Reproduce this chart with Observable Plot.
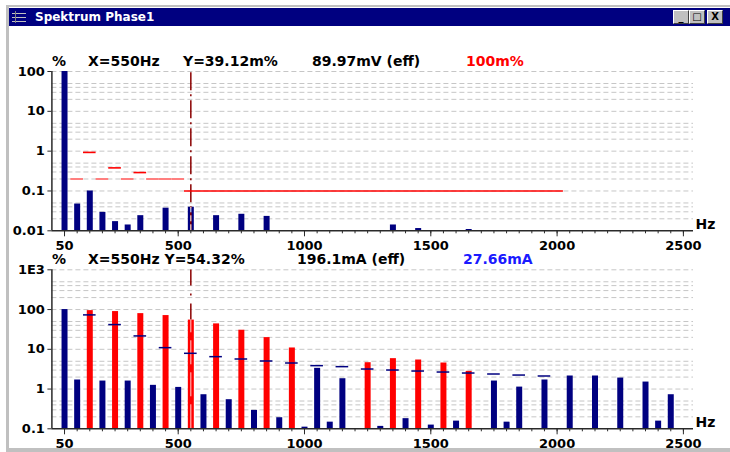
<!DOCTYPE html>
<html>
<head>
<meta charset="utf-8">
<script src="https://cdn.jsdelivr.net/npm/d3@7"></script>
<script src="https://cdn.jsdelivr.net/npm/@observablehq/plot@0.6"></script>
<style>
  body { margin: 0; width: 730px; height: 452px; overflow: hidden; position: relative; background: #fff; font-family: "DejaVu Sans", sans-serif; }
  .abs { position: absolute; }
  .hdr { position: absolute; font: bold 14px "DejaVu Sans", sans-serif; line-height: 16px; white-space: pre; color: #000; }
  .btn { position: absolute; top: 10px; width: 14px; height: 12px; background: #c0c0c0; border: 1px solid; border-color: #fff #404040 #404040 #fff; font: bold 10px "DejaVu Sans", sans-serif; line-height: 12px; text-align: center; color: #000; }
</style>
</head>
<body>
<div class="abs" style="left:6px;top:5px;width:730px;height:441px;border-left:3px solid #c0c0c0;border-top:2px solid #c0c0c0;border-bottom:4px solid #c0c0c0;"></div>
<div class="abs" style="left:9px;top:8px;width:730px;height:18px;background:#000080;"></div>
<div class="abs" style="left:12px;top:10px;width:15px;height:14px;">
  <div class="abs" style="left:0;top:3px;width:14px;height:1px;background:#c0c0c0"></div>
  <div class="abs" style="left:0;top:7px;width:14px;height:1px;background:#c0c0c0"></div>
  <div class="abs" style="left:0;top:11px;width:14px;height:1px;background:#c0c0c0"></div>
  <div class="abs" style="left:3px;top:1px;width:1px;height:12px;background:#808080"></div>
</div>
<div class="abs" style="left:35px;top:9px;font:bold 12px 'DejaVu Sans',sans-serif;line-height:16px;color:#fff;">Spektrum Phase1</div>
<div class="btn" style="left:673px;">_</div>
<div class="btn" style="left:689px;">&#9633;</div>
<div class="btn" style="left:707px;">X</div>

<div id="top" class="abs" style="left:0;top:40px;"></div>
<div id="bot" class="abs" style="left:0;top:245px;"></div>

<div class="hdr" style="left:52px;top:53px;">%</div>
<div class="hdr" style="left:88px;top:53px;">X=550Hz</div>
<div class="hdr" style="left:183px;top:53px;">Y=39.12m%</div>
<div class="hdr" style="left:312px;top:53px;">89.97mV (eff)</div>
<div class="hdr" style="left:466px;top:53px;color:#ff0000;">100m%</div>

<div class="hdr" style="left:52px;top:251px;">%</div>
<div class="hdr" style="left:88px;top:251px;">X=550Hz Y=54.32%</div>
<div class="hdr" style="left:297px;top:251px;">196.1mA (eff)</div>
<div class="hdr" style="left:463px;top:251px;color:#1a1aff;">27.66mA</div>

<script>
// ---------- data ----------
const cursorHz = 550;

// voltage spectrum (top), % of fundamental
const uHz  = [50, 100, 150, 200, 250, 300, 350, 450, 550, 650, 750, 850, 1350, 1450, 1650];
const uPct = [100, 0.047, 0.1, 0.029, 0.017, 0.014, 0.024, 0.037, 0.03912, 0.024, 0.026, 0.023, 0.014, 0.0114, 0.0108];

// voltage limits (top)
const uLimLightHz  = [100, 200, 300, 400, 450, 500];
const uLimLightPct = [0.2, 0.2, 0.2, 0.2, 0.2, 0.2];
const uLimHz  = [150, 250, 350];
const uLimPct = [0.93, 0.38, 0.29];
const uBandFrom = 550, uBandTo = 2000, uBandPct = 0.1;

// current spectrum (bottom), % of fundamental
const iHz  = [50, 100, 150, 200, 250, 300, 350, 400, 450, 500, 550, 600, 650, 700, 750, 800, 850, 900, 950, 1000,
              1050, 1100, 1150, 1250, 1300, 1350, 1400, 1450, 1500, 1550, 1600, 1650, 1750, 1800, 1850, 1950,
              2050, 2150, 2250, 2350, 2400, 2450];
const iPct = [100, 1.69, 94, 1.59, 89, 1.59, 79, 1.24, 70.6, 1.1, 54.32, 0.72, 43.6, 0.54, 30.2, 0.29, 19.7, 0.19, 10.8, 0.11,
              3.32, 0.147, 1.82, 4.6, 0.115, 5.82, 0.18, 5.38, 0.124, 4.52, 0.156, 2.79, 1.59, 0.147, 1.12, 1.69,
              2.13, 2.13, 1.89, 1.5, 0.156, 0.72];

// current limits (bottom)
const iLimHz  = [150, 250, 350, 450, 550, 650, 750, 850, 950, 1050, 1150, 1250, 1350, 1450, 1550, 1650, 1750, 1850, 1950];
const iLimPct = [73.4, 41.9, 21.7, 11.0, 7.93, 6.53, 5.7, 5.08, 4.52, 3.88, 3.66, 3.19, 3.01, 2.84, 2.68, 2.53, 2.39, 2.25, 2.13];

// axes
const xMajor = [50, 500, 1000, 1500, 2000, 2500];
const uTicks = [0.01, 0.1, 1, 10, 100];
const uTickLabels = ["0.01", "0.1", "1", "10", "100"];
const iTicks = [0.1, 1, 10, 100, 1000];
const iTickLabels = ["0.1", "1", "10", "100", "1E3"];
const gridMult = [1, 2, 3, 4, 5];

// ---------- helpers ----------
const zip = (a, b, k1, k2) => a.map((v, i) => ({[k1]: v, [k2]: b[i]}));
const NAVY = "#000080", RED = "#ff0000", PINK = "#ff7f7f", CURSOR = "#8b0000", GRID = "#c6c6c6", AXIS = "#2a2a2a";
const xMinor = d3.range(50, 2501, 50);

function grid(ticks) {
  const out = [];
  for (let k = 0; k < ticks.length - 1; k++) for (const m of gridMult) out.push(ticks[k] * m);
  out.shift();
  out.push(ticks[ticks.length - 1]);
  return out;
}

function chart({height, marginTop, marginBottom, ticks, labels, marks}) {
  const lab = new Map(ticks.map((t, i) => [t, labels[i]]));
  const floor = ticks[0];
  return Plot.plot({
    width: 730, height, marginLeft: 51.4, marginRight: 37, marginTop, marginBottom,
    x: {type: "linear", domain: [0, 2540]},
    y: {type: "log", domain: [ticks[0], ticks[ticks.length - 1]]},
    style: {fontFamily: "DejaVu Sans", fontWeight: "bold", fontSize: "13px", color: AXIS, background: "none", overflow: "visible"},
    marks: [
      Plot.ruleY(grid(ticks), {stroke: GRID, strokeWidth: 1, strokeDasharray: "5,3"}),
      ...marks,
      Plot.ruleX([0], {stroke: AXIS, strokeWidth: 1.5}),
      Plot.ruleY([floor], {stroke: AXIS, strokeWidth: 1.5}),
      Plot.axisY({ticks, tickFormat: d => lab.get(d), tickSize: 4, tickPadding: 3, label: null, fill: "#000"}),
      Plot.axisX({ticks: xMajor, tickFormat: d => String(d), tickSize: 6, tickPadding: 3.5, label: null, fill: "#000"}),
      Plot.axisX({ticks: xMinor, tickSize: 3, tickFormat: () => "", label: null}),
      Plot.text(["Hz"], {frameAnchor: "bottom-right", textAnchor: "start", lineAnchor: "bottom", dx: 2, dy: -2, fontSize: 14, fill: "#000"})
    ]
  });
}

// ---------- top chart ----------
const uData = zip(uHz, uPct, "hz", "pct");
const uCursorVal = uPct[uHz.indexOf(cursorHz)];
document.getElementById("top").append(chart({
  height: 215, marginTop: 31, marginBottom: 24.7,
  ticks: uTicks, labels: uTickLabels,
  marks: [
    Plot.ruleX(uData, {x: "hz", y1: 0.01, y2: "pct", stroke: NAVY, strokeWidth: 6}),
    Plot.ruleX([cursorHz], {y1: 0.01, y2: 100, stroke: CURSOR, strokeWidth: 1.5, strokeDasharray: "18,4,2,4"}),
    Plot.ruleX([cursorHz], {y1: 0.01, y2: uCursorVal, stroke: "#fff", strokeWidth: 1, strokeDasharray: "6,3"}),
    Plot.ruleY(zip(uLimLightHz, uLimLightPct, "hz", "pct"), {y: "pct", x1: d => d.hz - 25, x2: d => d.hz + 25, stroke: PINK, strokeWidth: 2}),
    Plot.ruleY(zip(uLimHz, uLimPct, "hz", "pct"), {y: "pct", x1: d => d.hz - 25, x2: d => d.hz + 25, stroke: RED, strokeWidth: 1.6}),
    Plot.ruleY([{from: uBandFrom, to: uBandTo, pct: uBandPct}], {y: "pct", x1: d => d.from - 25, x2: d => d.to + 25, stroke: RED, strokeWidth: 1.3})
  ]
}));

// ---------- bottom chart ----------
const limMap = new Map(iLimHz.map((h, i) => [h, iLimPct[i]]));
const iData = iHz.map((h, i) => ({hz: h, pct: iPct[i], over: limMap.has(h) && iPct[i] > limMap.get(h)}));
const iCursorVal = iPct[iHz.indexOf(cursorHz)];
document.getElementById("bot").append(chart({
  height: 207, marginTop: 24.3, marginBottom: 23.7,
  ticks: iTicks, labels: iTickLabels,
  marks: [
    Plot.ruleX(iData, {x: "hz", y1: 0.1, y2: "pct", stroke: d => d.over ? RED : NAVY, strokeWidth: 6}),
    Plot.ruleX([cursorHz], {y1: iCursorVal, y2: 1000, stroke: CURSOR, strokeWidth: 1.5, strokeDasharray: "16,8,2,8"}),
    Plot.ruleX([cursorHz], {y1: 0.1, y2: iCursorVal, stroke: "#ffd0d0", strokeWidth: 1, strokeDasharray: "24,8"}),
    Plot.ruleY(zip(iLimHz, iLimPct, "hz", "pct"), {y: "pct", x1: d => d.hz - 25, x2: d => d.hz + 25, stroke: NAVY, strokeWidth: 1.5})
  ]
}));
</script>
</body>
</html>
